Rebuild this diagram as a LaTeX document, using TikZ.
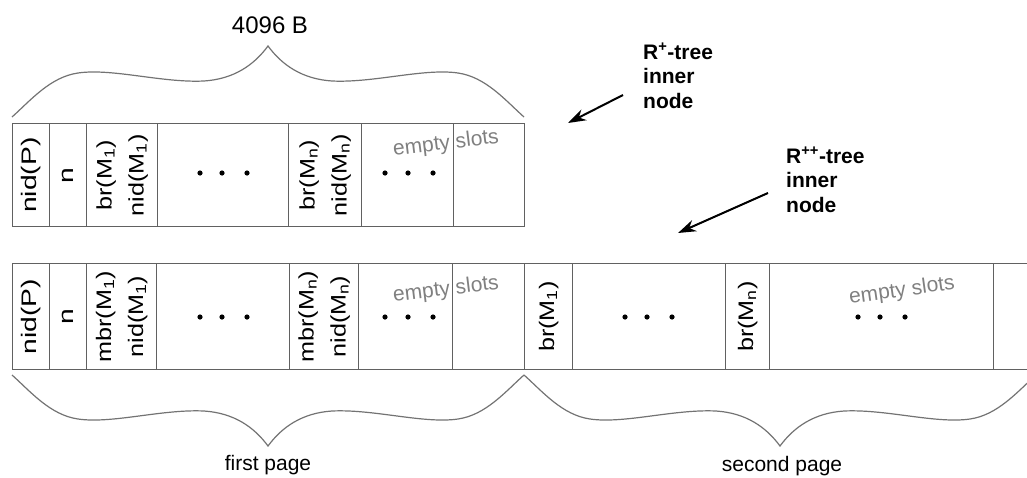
\documentclass[tikz,border=0pt]{standalone}
\usepackage{fontspec}
\setmainfont{Liberation Sans}
\usetikzlibrary{arrows.meta}
\definecolor{rule}{gray}{0.38}
\definecolor{slotgray}{gray}{0.5}
\definecolor{bracegray}{gray}{0.45}

\tikzset{
  pics/curlybrace/.style={code={
    \draw[brace] (0,0) .. controls (18,16) and (38,40) .. (66,44)
      .. controls (100,49) and (150,34) .. (192,36)
      .. controls (222,38) and (242,52) .. (256,71)
      .. controls (270,52) and (290,38) .. (320,36)
      .. controls (362,34) and (412,49) .. (446,44)
      .. controls (474,40) and (494,16) .. (512,0);
  }}
}

\begin{document}
\begin{tikzpicture}[x=1pt,y=-1pt,
  cell/.style={draw=rule, line width=1.3pt, inner sep=0pt, anchor=north west},
  vlab/.style={rotate=90, xscale=1.2, font=\fontsize{21}{32}\selectfont, align=center, inner sep=0pt},
  biglab/.style={vlab, xscale=1.12},
  slots/.style={text=slotgray, font=\fontsize{21}{25}\selectfont, rotate=7, inner sep=0pt},
  tag/.style={font=\bfseries\fontsize{21}{24.5}\selectfont, align=left, anchor=north west, inner sep=0pt},
  caption/.style={font=\fontsize{21}{24}\selectfont, inner sep=0pt},
  brace/.style={draw=bracegray, line width=1.2pt},
  pointer/.style={line width=2pt, -{Stealth[length=18pt,width=12pt]}}
]
\useasboundingbox (0,0) rectangle (1027,477);

% ---- R+-tree inner node: one page ----
\node[cell, minimum width=37pt, minimum height=103pt] (tA) at (12,123) {};
\node[cell, minimum width=37pt, minimum height=103pt] (tB) at (49,123) {};
\node[cell, minimum width=71pt, minimum height=103pt] (tC) at (86,123) {};
\node[cell, minimum width=131pt, minimum height=103pt] (tD) at (157,123) {};
\node[cell, minimum width=73pt, minimum height=103pt] (tE) at (288,123) {};
\node[cell, minimum width=92pt, minimum height=103pt] (tF) at (361,123) {};
\node[cell, minimum width=71pt, minimum height=103pt] (tG) at (453,123) {};

\node[biglab] (tAl) at (tA.center) {nid(P)};
\node[biglab] (tBl) at (tB.center) {n};
\node[vlab] (tCl) at (tC.center) {br(M\textsubscript{1})\\nid(M\textsubscript{1})};
\node[vlab] (tEl) at (tE.center) {br(M\textsubscript{n})\\nid(M\textsubscript{n})};
\node[slots] (tFl) at (446,144) {empty slots};
\foreach \x in {200,222,247,385,408,433} \fill (\x,173) circle (2.6pt);

% ---- R++-tree inner node: two pages ----
\node[cell, minimum width=37pt, minimum height=106pt] (bA) at (12,263) {};
\node[cell, minimum width=37pt, minimum height=106pt] (bB) at (49,263) {};
\node[cell, minimum width=70pt, minimum height=106pt] (bC) at (86,263) {};
\node[cell, minimum width=133pt, minimum height=106pt] (bD) at (156,263) {};
\node[cell, minimum width=69pt, minimum height=106pt] (bE) at (289,263) {};
\node[cell, minimum width=94pt, minimum height=106pt] (bF) at (358,263) {};
\node[cell, minimum width=72pt, minimum height=106pt] (bG) at (452,263) {};
\node[cell, minimum width=48pt, minimum height=106pt] (bH) at (524,263) {};
\node[cell, minimum width=153pt, minimum height=106pt] (bI) at (572,263) {};
\node[cell, minimum width=44pt, minimum height=106pt] (bJ) at (725,263) {};
\node[cell, minimum width=224pt, minimum height=106pt] (bK) at (769,263) {};
\node[cell, minimum width=60pt, minimum height=106pt] (bL) at (993,263) {};

\node[biglab] (bAl) at (bA.center) {nid(P)};
\node[biglab] (bBl) at (bB.center) {n};
\node[vlab] (bCl) at (bC.center) {mbr(M\textsubscript{1})\\nid(M\textsubscript{1})};
\node[vlab] (bEl) at (bE.center) {mbr(M\textsubscript{n})\\nid(M\textsubscript{n})};
\node[slots] (bFl) at (446,290) {empty slots};
\node[vlab] (bHl) at (bH.center) {br(M\textsubscript{1})};
\node[vlab] (bJl) at (bJ.center) {br(M\textsubscript{n})};
\node[slots, rotate=1] (bKl) at (902,291) {empty slots};
\foreach \x in {200,222,247,385,408,433,625,647,672,858,880,905} \fill (\x,317) circle (2.6pt);

% ---- braces and their captions ----
\pic[yscale=-1] at (12,117) {curlybrace};
\pic at (12,375) {curlybrace};
\pic at (524,375) {curlybrace};
\node[caption, font=\fontsize{24}{28}\selectfont] (size) at (270,25) {4096 B};
\node[caption] (page1) at (268,465) {first page};
\node[caption] (page2) at (782,466) {second page};

% ---- tags with pointers ----
\node[tag] (rplus) at (643,43) {R\textsuperscript{+}-tree\\inner\\node};
\node[tag] (rpp) at (786,147) {R\textsuperscript{++}-tree\\inner\\node};
\coordinate (p1from) at (623,95);
\coordinate (p1to) at (568,123);
\coordinate (p2from) at (768,193);
\coordinate (p2to) at (678,233);
\draw[pointer] (p1from) -- (p1to);
\draw[pointer] (p2from) -- (p2to);
\end{tikzpicture}
\end{document}
